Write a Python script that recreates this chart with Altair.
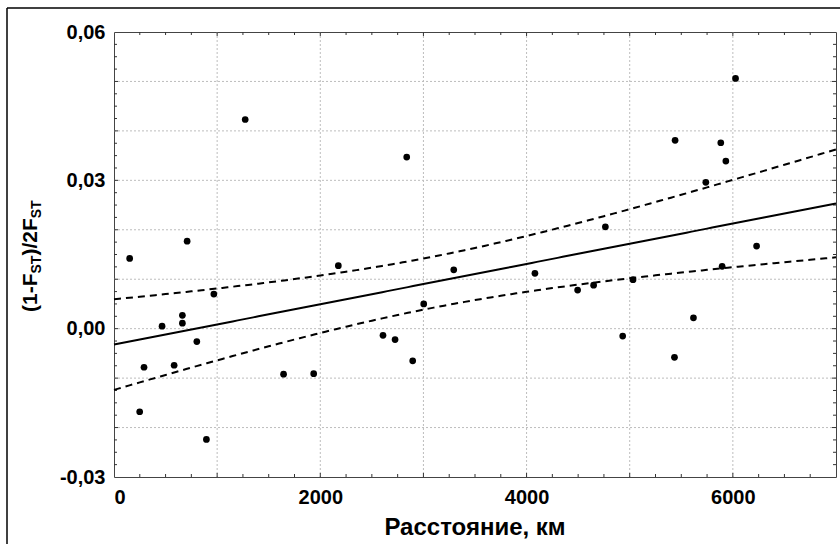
import altair as alt
import numpy as np
import pandas as pd

# ---- data ----
distance_km = [1272, 2838, 709, 6026, 5440, 5883, 5932, 5738, 4764, 6230,
               152, 2175, 3294, 968, 3003, 663, 663, 466, 803, 2608,
               2725, 2896, 291, 583, 1644, 1936, 249, 896,
               4081, 4495, 4650, 5032, 5896, 4932, 5618, 5434]
ratio = [0.0423, 0.0347, 0.0177, 0.0506, 0.0381, 0.0376, 0.0339, 0.0296, 0.0206, 0.0167,
         0.0142, 0.01275, 0.0119, 0.0070, 0.0050, 0.0027, 0.0011, 0.0005, -0.0026, -0.00135,
         -0.0022, -0.0065, -0.0078, -0.0074, -0.0092, -0.0091, -0.0168, -0.0224,
         0.0112, 0.0078, 0.0088, 0.0099, 0.0126, -0.0015, 0.0022, -0.0058]

x_tick_labels = [0, 2000, 4000, 6000]
y_tick_labels = [-0.03, 0.0, 0.03, 0.06]
x_grid = [1000, 2000, 3000, 4000, 5000, 6000]
y_grid = [-0.02, -0.01, 0.0, 0.01, 0.02, 0.03, 0.04, 0.05]
x_minor = [v for v in range(250, 7000, 250) if v % 1000 != 0]
y_minor = [round(-0.03 + 0.0025 * i, 4) for i in range(1, 36) if i % 4 != 0]
x_major = [1000, 2000, 3000, 4000, 5000, 6000]
y_major = [-0.02, -0.01, 0.0, 0.01, 0.02, 0.03, 0.04, 0.05]

x_title = "Расстояние, км"
y_title_parts = [("(1-F", 21, 0), ("ST", 14, 4), (")/2F", 21, 0), ("ST", 14, 4)]

# ---- linear fit with 95% confidence band of the mean ----
X = np.array(distance_km, dtype=float)
Y = np.array(ratio, dtype=float)
n = len(X)
xm, ym = X.mean(), Y.mean()
sxx = ((X - xm) ** 2).sum()
b = ((X - xm) * (Y - ym)).sum() / sxx
a = ym - b * xm
s = np.sqrt(((Y - (a + b * X)) ** 2).sum() / (n - 2))
tval = 2.032
xs = np.linspace(0, 7000, 141)
fit = a + b * xs
half = tval * s * np.sqrt(1.0 / n + (xs - xm) ** 2 / sxx)
fit_df = pd.DataFrame({"x": xs, "fit": fit, "lo": fit - half, "hi": fit + half})

W, H = 722, 445
FONT = "Liberation Sans"

xscale = alt.Scale(domain=[0, 7000], nice=False, zero=False)
yscale = alt.Scale(domain=[-0.03, 0.06], nice=False, zero=False)

xaxis = alt.Axis(
    values=x_tick_labels, format="d", title=None, grid=False, ticks=False, tickSize=0,
    domain=False, labelFont=FONT, labelFontSize=20, labelFontWeight="bold",
    labelColor="black", labelPadding=10)
yaxis = alt.Axis(
    values=y_tick_labels, format=".2f", title=None, grid=False, ticks=False, tickSize=0,
    domain=False, labelFont=FONT, labelFontSize=20, labelFontWeight="bold",
    labelColor="black", labelPadding=9,
    labelExpr="replace(replace(datum.label, '.', ','), '−', '-')")

def XQ(f):
    return alt.X(f, type="quantitative", scale=xscale, axis=xaxis)

def YQ(f):
    return alt.Y(f, type="quantitative", scale=yscale, axis=yaxis)

pts_df = pd.DataFrame({"d": distance_km, "r": ratio})

grid_x = alt.Chart(pd.DataFrame({"v": x_grid})).mark_rule(
    color="#bdbdbd", strokeWidth=1, strokeDash=[2, 2]
).encode(x=XQ("v"))
grid_y = alt.Chart(pd.DataFrame({"v": y_grid})).mark_rule(
    color="#bdbdbd", strokeWidth=1, strokeDash=[2, 2]
).encode(y=YQ("v"))

def xticks(vals, L):
    d = pd.DataFrame({"v": vals})
    bottom = alt.Chart(d).mark_rule(color="#333333").encode(
        x=XQ("v"), y=alt.value(H), y2=alt.value(H - L))
    top = alt.Chart(d).mark_rule(color="#333333").encode(
        x=XQ("v"), y=alt.value(0), y2=alt.value(L))
    return [bottom, top]

def yticks(vals, L):
    d = pd.DataFrame({"v": vals})
    left = alt.Chart(d).mark_rule(color="#333333").encode(
        y=YQ("v"), x=alt.value(0), x2=alt.value(L))
    right = alt.Chart(d).mark_rule(color="#333333").encode(
        y=YQ("v"), x=alt.value(W), x2=alt.value(W - L))
    return [left, right]

ticks = xticks(x_minor, 3) + xticks(x_major, 4) + yticks(y_minor, 3) + yticks(y_major, 4)

fit_line = alt.Chart(fit_df).mark_line(color="black", strokeWidth=2).encode(
    x=XQ("x"), y=YQ("fit"))
hi_line = alt.Chart(fit_df).mark_line(color="black", strokeWidth=2, strokeDash=[7, 5]).encode(
    x=XQ("x"), y=YQ("hi"))
lo_line = alt.Chart(fit_df).mark_line(color="black", strokeWidth=2, strokeDash=[7, 5]).encode(
    x=XQ("x"), y=YQ("lo"))

points = alt.Chart(pts_df).mark_circle(color="black", size=45, opacity=1).encode(
    x=XQ("d"), y=YQ("r"))

one = pd.DataFrame({"t": [x_title]})
xtitle = alt.Chart(one).mark_text(
    font=FONT, fontSize=24, fontWeight="bold", color="black",
    align="center", baseline="alphabetic"
).encode(text="t:N", x=alt.value(W / 2), y=alt.value(503))

ytitle_layers = []
offset = 0.0
widths = {"(1-F": 1.833, "ST": 1.278, ")/2F": 1.778}
for txt, fs, dy in y_title_parts:
    ytitle_layers.append(
        alt.Chart(pd.DataFrame({"t": [txt]})).mark_text(
            font=FONT, fontSize=fs, fontWeight="bold", color="black",
            align="left", baseline="alphabetic", angle=270, dx=offset, dy=dy
        ).encode(text="t:N", x=alt.value(-77), y=alt.value(280))
    )
    offset += widths[txt] * fs

frame_df = pd.DataFrame({"k": [0]})
border_top = alt.Chart(frame_df).mark_rule(color="black", strokeWidth=1.5).encode(
    x=alt.value(-107), x2=alt.value(W + 10), y=alt.value(-24))
border_left = alt.Chart(frame_df).mark_rule(color="black", strokeWidth=1.5).encode(
    x=alt.value(-107), y=alt.value(-24), y2=alt.value(H + 80))

chart = alt.layer(
    grid_x, grid_y, *ticks, hi_line, lo_line, fit_line, points,
    xtitle, *ytitle_layers, border_top, border_left
).properties(
    width=W, height=H,
    padding={"left": 114, "top": 32, "right": 4, "bottom": 67},
    autosize=alt.AutoSizeParams(type="none"),
    background="white",
).configure_view(stroke="#444444", strokeWidth=1)

chart.save("out.html", embed_options={"renderer": "svg", "actions": False})
